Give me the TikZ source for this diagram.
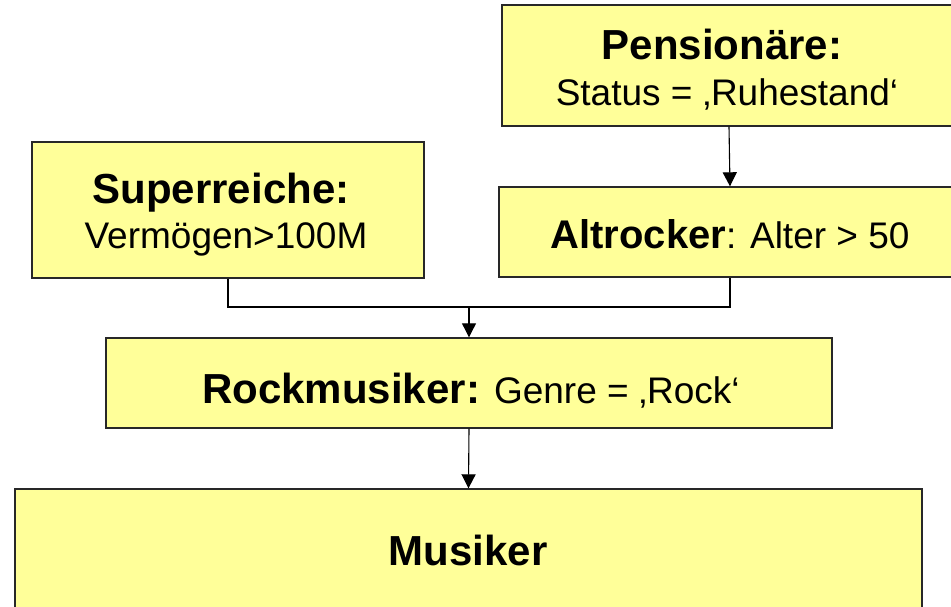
\documentclass[tikz,border=0pt]{standalone}
\usepackage{fontspec}
\setmainfont{Liberation Sans}
\usetikzlibrary{arrows.meta}
\definecolor{boxfill}{RGB}{255,255,153}
\definecolor{boxline}{RGB}{40,40,40}
\tikzset{
  box/.style={draw=boxline, line width=1.4pt, fill=boxfill, rectangle, inner sep=0pt},
  bt/.style={inner sep=0pt, anchor=base, font=\fontsize{42}{48}\selectfont\bfseries},
  rt/.style={inner sep=0pt, anchor=base, font=\fontsize{37}{44}\selectfont},
  mixt/.style={inner sep=0pt, anchor=base, font=\fontsize{37}{44}\selectfont},
  conn/.style={draw=black, line width=1.1pt},
  arr/.style={conn, -{Triangle[length=14pt,width=14pt]}}
}
\begin{document}
\begin{tikzpicture}[x=1pt,y=-1pt]
\clip (0,0) rectangle (951,607);
\fill[white] (0,0) rectangle (951,607);
% boxes
\node[box, minimum width=450pt, minimum height=121pt] (pens) at (727,65.5) {};
\node[box, minimum width=462pt, minimum height=90pt] (alt) at (730,232) {};
\node[box, minimum width=392pt, minimum height=136pt] (sr) at (228,210) {};
\node[box, minimum width=726pt, minimum height=90pt] (rm) at (469,383) {};
\node[box, minimum width=907pt, minimum height=151pt] (mu) at (468.5,564.5) {};
% texts
\node[bt] (penst1) at (722,60) {Pensionäre:};
\node[rt] (penst2) at (727,106) {Status = ‚Ruhestand‘};
\node[mixt] (altt) at (730,248) {{\fontsize{40}{48}\selectfont\bfseries Altrocker}: Alter > 50};
\node[bt] (srt1) at (221,204) {Superreiche:};
\node[rt] (srt2) at (226,248) {Vermögen>100M};
\node[mixt] (rmt) at (471,403) {{\fontsize{42}{48}\selectfont\bfseries Rockmusiker:}\hspace{14pt}Genre = ‚Rock‘};
\node[bt] (mut) at (468,565) {Musiker};
% connectors
\coordinate (j) at (469,307);
\draw[arr] ([xshift=2pt]pens.south) -- (alt.north);
\draw[conn] (sr.south) |- (j) -| (alt.south);
\draw[arr] (j) -- (rm.north);
\draw[arr] (rm.south) -- (mu.north);
\end{tikzpicture}
\end{document}
